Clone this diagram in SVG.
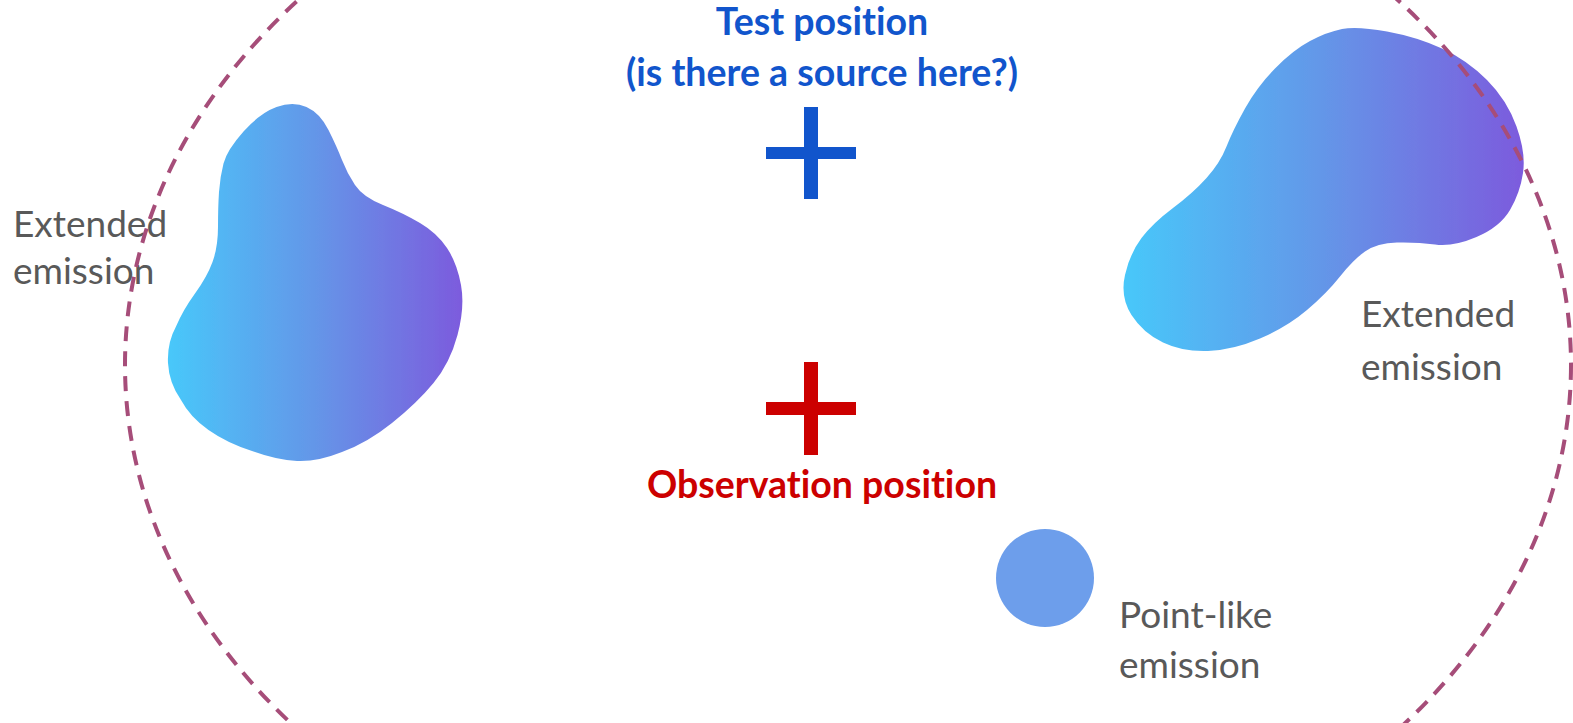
<svg xmlns="http://www.w3.org/2000/svg" width="1573" height="723" viewBox="0 0 1573 723">
  <style>
    .label { font-family: Lato, "Open Sans", "Liberation Sans", sans-serif; font-size: 37px; fill: #595959; font-variant-ligatures: none; }
    .head { font-family: Lato, "Open Sans", "Liberation Sans", sans-serif; font-size: 37.5px; font-weight: bold; text-anchor: middle; font-variant-ligatures: none; }
    .test { fill: #1155cc; }
    .obs { fill: #cc0000; }
    .blob { fill: url(#blobGrad); filter: url(#soft); }
  </style>
  <defs>
    <linearGradient id="blobGrad" x1="0" y1="0" x2="1" y2="0">
      <stop offset="0" stop-color="#48c8fa"/>
      <stop offset="0.5" stop-color="#6496e8"/>
      <stop offset="1" stop-color="#7c5bdd"/>
    </linearGradient>
    <filter id="soft" x="-5%" y="-5%" width="110%" height="110%">
      <feGaussianBlur stdDeviation="0.6"/>
    </filter>
  </defs>
  <rect width="1573" height="723" fill="#ffffff"/>

  <!-- extended emission, left -->
  <g id="extended-left">
    <path class="blob" d="M 306.5,107 Q 320,113 328.5,130 Q 337,147 342,160 Q 347,173 355,185 Q 363,197 383,205 Q 403,213 420,223 Q 437,233 447,248 Q 457,263 461,285 Q 465,307 457.5,335 Q 450,363 433.5,383 Q 417,403 392,423 Q 367,443 342,452 Q 317,462 297,461 Q 277,460 252,451 Q 227,443 208.5,430 Q 190,417 181,400 Q 169,383 168,363 Q 167,343 176,326.5 Q 183,310 195,293.5 Q 207,277 212.5,262 Q 218,247 218,227 Q 218,207 219,192 Q 220,177 223.5,163.5 Q 227,150 243.5,131.5 Q 260,113 276.5,107 Q 293,101 306.5,107 Z"/>
    <text class="label" x="13" y="237">Extended</text>
    <text class="label" x="13" y="284">emission</text>
  </g>

  <!-- extended emission, right -->
  <g id="extended-right">
    <path class="blob" d="M 1387,31.5 Q 1417,37 1442,48.5 Q 1467,60 1487,80 Q 1507,100 1516.5,126.5 Q 1526,153 1523,173 Q 1520,193 1510,210 Q 1500,227 1476.5,237 Q 1453,247 1435,244.5 Q 1417,242 1397,242.5 Q 1377,243 1365,251.5 Q 1353,260 1340,276.5 Q 1327,293 1307,310 Q 1287,327 1260,338.5 Q 1233,350 1208,351 Q 1183,352 1163,342.5 Q 1143,333 1131.5,315 Q 1120,297 1125,275 Q 1130,253 1141.5,238 Q 1153,223 1173,208 Q 1193,193 1206.5,178 Q 1220,163 1226.5,146.5 Q 1233,130 1245,108.5 Q 1257,87 1275,68.5 Q 1293,50 1310,41 Q 1327,32 1342,29 Q 1357,26 1387,31.5 Z"/>
    <text class="label" x="1361" y="327">Extended</text>
    <text class="label" x="1361" y="380">emission</text>
  </g>

  <!-- point-like emission -->
  <g id="point-like">
    <circle cx="1045" cy="578" r="49" fill="#6d9eeb"/>
    <text class="label" x="1119" y="628">Point-like</text>
    <text class="label" x="1119" y="678">emission</text>
  </g>

  <!-- test position marker -->
  <g id="test-position">
    <text class="head test" x="822" y="35">Test position</text>
    <text class="head test" x="822" y="86">(is there a source here?)</text>
    <rect x="804" y="107" width="14" height="92" fill="#1155cc"/>
    <rect x="766" y="147" width="90" height="12" fill="#1155cc"/>
  </g>

  <!-- observation position marker -->
  <g id="observation-position">
    <rect x="804" y="362" width="14" height="93" fill="#cc0000"/>
    <rect x="766" y="402" width="90" height="13" fill="#cc0000"/>
    <text class="head obs" x="822" y="498">Observation position</text>
  </g>

  <!-- region of interest boundary -->
  <g id="connectors">
    <ellipse cx="848" cy="365" rx="723" ry="562" fill="none" stroke="#a64d79" stroke-width="4" stroke-dasharray="15 10"/>
  </g>
</svg>
